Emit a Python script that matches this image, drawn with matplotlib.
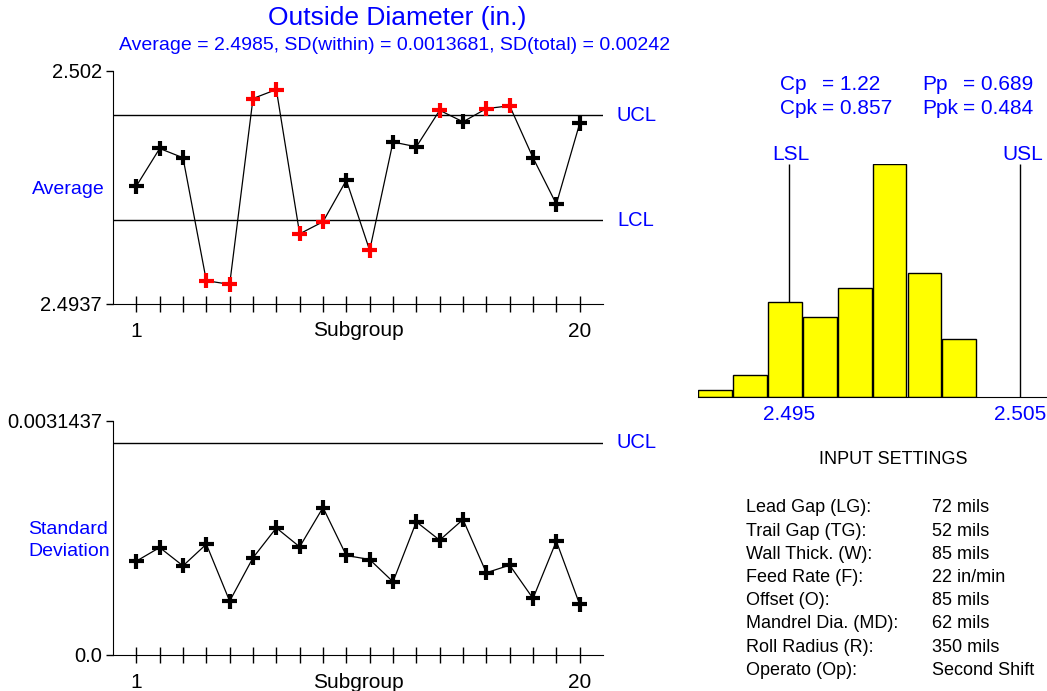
import numpy as np
import matplotlib.pyplot as plt

plt.rcParams['font.family'] = ['Liberation Sans Narrow', 'Liberation Sans', 'DejaVu Sans']

W, H = 1047, 691
BLUE = '#0000FF'
RED = '#FF0000'

# ---- data ----
subgroups = np.arange(1, 21)
averages = [2.49790, 2.49924, 2.49891, 2.49453, 2.49440, 2.50102, 2.50134, 2.49620,
            2.49663, 2.49811, 2.49561, 2.49947, 2.49930, 2.50060, 2.50019, 2.50066,
            2.50076, 2.49891, 2.49726, 2.50013]
std_devs = [0.001261, 0.001444, 0.001198, 0.001489, 0.000724, 0.001306, 0.001708,
            0.001453, 0.001981, 0.001337, 0.001283, 0.000984, 0.001789, 0.001543,
            0.001820, 0.001105, 0.001207, 0.000760, 0.001529, 0.000680]
avg_ucl, avg_lcl = 2.50042, 2.49668
avg_min, avg_max = 2.4937, 2.502
sd_ucl = 0.002853
sd_min, sd_max = 0.0, 0.0031437

hist_edges = [2.49106, 2.49257, 2.49408, 2.49559, 2.49710, 2.49861, 2.50012, 2.50163, 2.50314]
hist_counts = [1, 3, 13, 11, 15, 32, 17, 8]
lsl, usl = 2.495, 2.505

cap_names = ['Cp', 'Cpk']
cap_vals = ['= 1.22', '= 0.857']
perf_names = ['Pp', 'Ppk']
perf_vals = ['= 0.689', '= 0.484']

setting_names = ['Lead Gap (LG):', 'Trail Gap (TG):', 'Wall Thick. (W):', 'Feed Rate (F):',
                 'Offset (O):', 'Mandrel Dia. (MD):', 'Roll Radius (R):', 'Operato (Op):']
setting_vals = ['72 mils', '52 mils', '85 mils', '22 in/min', '85 mils', '62 mils',
                '350 mils', 'Second Shift']

title = 'Outside Diameter (in.)'
subtitle = 'Average = 2.4985, SD(within) = 0.0013681, SD(total) = 0.00242'


def box(x0, y0, x1, y1):
    # pixel box (top-left origin) -> figure fraction rect
    return [x0 / W, 1 - y1 / H, (x1 - x0) / W, (y1 - y0) / H]


def ftext(x, y, s, **kw):
    fig.text(x / W, 1 - y / H, s, **kw)


fig = plt.figure(figsize=(W / 100, H / 100), dpi=100)

ftext(397, 18, title, color=BLUE, fontsize=19, ha='center', va='center')
ftext(395, 45, subtitle, color=BLUE, fontsize=14, ha='center', va='center')


def control_chart(ax, vals, limits, ylo, yhi, ylabels, flag):
    ax.plot(subgroups, vals, color='black', lw=0.9, zorder=2)
    if flag:
        cols = [RED if (v > limits[0][1] or v < limits[1][1]) else 'black' for v in vals]
    else:
        cols = ['black'] * len(vals)
    ax.scatter(subgroups, vals, marker='+', s=115, c=cols, linewidths=3, zorder=3)
    for name, lev in limits:
        ax.axhline(lev, color='black', lw=1)
        ax.annotate(name, xy=(1, lev), xycoords=('axes fraction', 'data'),
                    xytext=(14, 0), textcoords='offset pixels', color=BLUE,
                    fontsize=14.5, ha='left', va='center')
    ax.set_xlim(0, 21)
    ax.set_ylim(ylo, yhi)
    for sp in ['top', 'right']:
        ax.spines[sp].set_visible(False)
    ax.set_yticks([ylo, yhi])
    ax.set_yticklabels(ylabels)
    ax.set_xticks(subgroups)
    ax.set_xticklabels(['1'] + [''] * 18 + ['20'])
    ax.tick_params(axis='x', direction='inout', length=12, width=1, labelsize=15, pad=7)
    ax.tick_params(axis='y', direction='out', length=5, width=1, labelsize=14.5, pad=3)
    ax.annotate('Subgroup', xy=(0.5, 0), xycoords='axes fraction', xytext=(0, -27),
                textcoords='offset pixels', fontsize=15, ha='center', va='center')


ax1 = fig.add_axes(box(113, 71, 603, 304))
control_chart(ax1, averages, [('UCL', avg_ucl), ('LCL', avg_lcl)],
              avg_min, avg_max, ['2.4937', '2.502'], True)
ftext(32, 190, 'Average', color=BLUE, fontsize=14, ha='left', va='center')

ax2 = fig.add_axes(box(113, 421, 603, 655))
control_chart(ax2, std_devs, [('UCL', sd_ucl)],
              sd_min, sd_max, ['0.0', '0.0031437'], False)
ftext(28, 529, 'Standard', color=BLUE, fontsize=14, ha='left', va='center')
ftext(28, 552, 'Deviation', color=BLUE, fontsize=14, ha='left', va='center')

# ---- histogram ----
ax3 = fig.add_axes(box(698, 164, 1047, 397))
lefts = hist_edges[:-1]
widths = np.diff(hist_edges) * 0.97
ax3.bar(lefts, hist_counts, width=widths, align='edge', color='#FFFF00',
        edgecolor='black', lw=1, zorder=2)
top = max(hist_counts)
ax3.vlines([lsl, usl], 0, top, color='black', lw=1, zorder=1)
ax3.set_ylim(0, top)
ax3.set_xlim(hist_edges[0], 2.50615)
for sp in ['top', 'right', 'left']:
    ax3.spines[sp].set_visible(False)
ax3.set_yticks([])
ax3.set_xticks([lsl, usl])
ax3.set_xticklabels(['2.495', '2.505'])
ax3.tick_params(axis='x', length=0, labelsize=15, labelcolor=BLUE, pad=6)
for name, lev in [('LSL', lsl), ('USL', usl)]:
    ax3.annotate(name, xy=(lev, top), xycoords='data', xytext=(2, 9),
                 textcoords='offset pixels', color=BLUE, fontsize=15,
                 ha='center', va='center', annotation_clip=False)

for i in range(2):
    y = 85 + 23 * i
    ftext(780, y, cap_names[i], color=BLUE, fontsize=15, ha='left', va='center')
    ftext(822, y, cap_vals[i], color=BLUE, fontsize=15, ha='left', va='center')
    ftext(922, y, perf_names[i], color=BLUE, fontsize=15, ha='left', va='center')
    ftext(963, y, perf_vals[i], color=BLUE, fontsize=15, ha='left', va='center')

# ---- input settings ----
ftext(893, 460, 'INPUT SETTINGS', fontsize=13, ha='center', va='center')
for i, (n, v) in enumerate(zip(setting_names, setting_vals)):
    y = 508 + 23.2 * i
    ftext(746, y, n, fontsize=13, ha='left', va='center')
    ftext(932, y, v, fontsize=13, ha='left', va='center')

fig.savefig('out.png', dpi=100)
